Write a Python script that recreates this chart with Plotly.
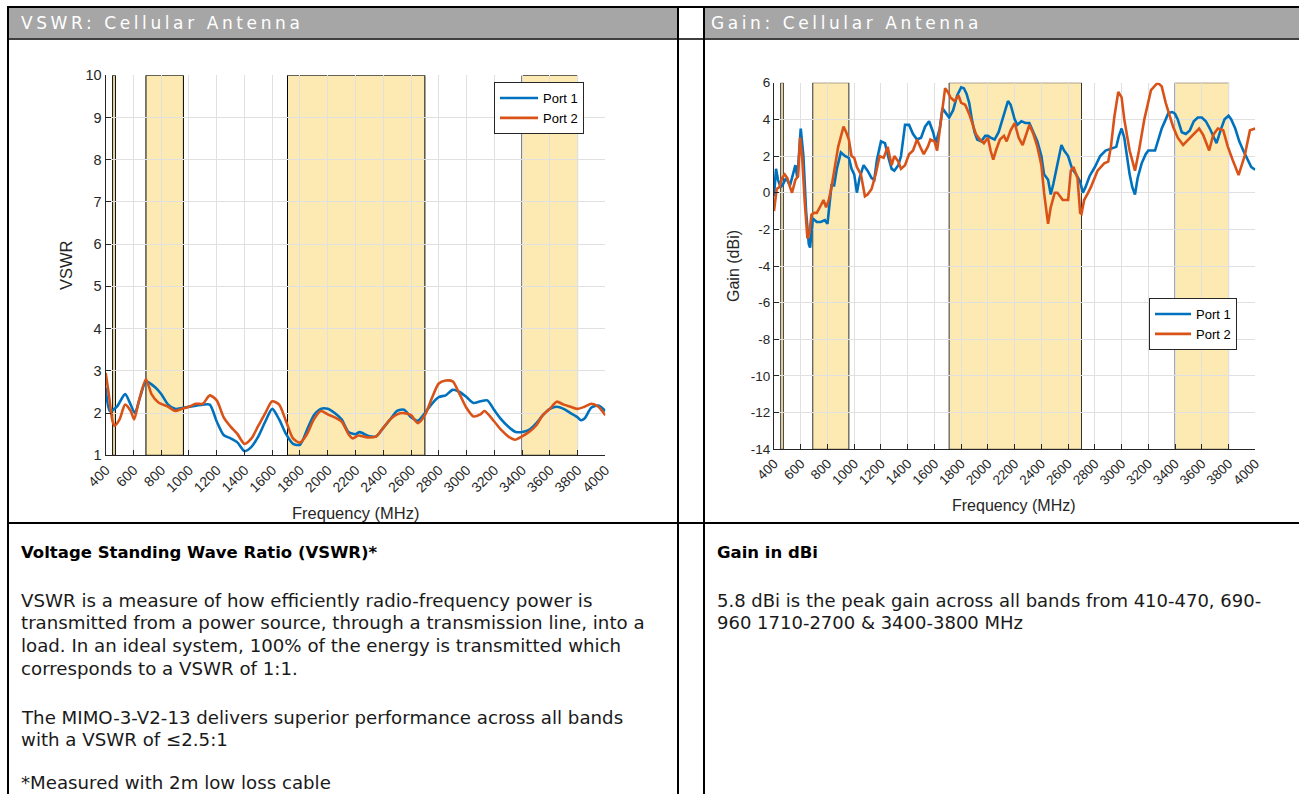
import plotly.graph_objects as go

W, H = 1299, 794

# ---------------- data ----------------
bands = [(450, 470), (690, 960), (1710, 2700), (3400, 3800)]

freq_vswr_p1 = [400, 430, 480, 540, 580, 610, 650, 690, 760, 800, 850, 900, 950, 1000, 1100, 1150, 1200, 1250, 1300, 1350,
                1400, 1450, 1500, 1550, 1600, 1650, 1700, 1750, 1800, 1850, 1900, 1950, 2000, 2050, 2100, 2150, 2200, 2230, 2300, 2350,
                2400, 2450, 2500, 2550, 2600, 2650, 2700, 2750, 2800, 2850, 2900, 2950, 3000, 3050, 3100, 3150, 3200, 3250, 3300, 3350,
                3400, 3450, 3500, 3550, 3600, 3650, 3700, 3750, 3800, 3825, 3850, 3900, 3950, 4000]
vswr_p1 = [2.6, 2.05, 2.15, 2.45, 2.2, 2.0, 2.4, 2.75, 2.6, 2.45, 2.2, 2.1, 2.12, 2.15, 2.2, 2.2, 1.8, 1.48, 1.4, 1.3,
           1.1, 1.2, 1.45, 1.8, 2.1, 1.85, 1.5, 1.27, 1.25, 1.6, 1.95, 2.1, 2.1, 2.0, 1.85, 1.55, 1.5, 1.55, 1.45, 1.45,
           1.65, 1.85, 2.05, 2.08, 1.9, 1.82, 2.0, 2.22, 2.38, 2.42, 2.55, 2.5, 2.38, 2.24, 2.28, 2.3, 2.07, 1.85, 1.68, 1.56,
           1.55, 1.6, 1.75, 1.95, 2.1, 2.15, 2.1, 2.0, 1.9, 1.83, 1.87, 2.13, 2.18, 2.05]

freq_vswr_p2 = [400, 420, 450, 465, 500, 540, 580, 605, 640, 690, 730, 780, 850, 900, 950, 1000, 1050, 1100, 1150, 1200,
                1250, 1300, 1350, 1400, 1450, 1500, 1550, 1600, 1650, 1700, 1750, 1800, 1850, 1900, 1950, 2000, 2050, 2100, 2150, 2180,
                2220, 2250, 2300, 2350, 2400, 2450, 2500, 2550, 2600, 2650, 2700, 2750, 2800, 2850, 2900, 2950, 3000, 3050, 3100, 3130,
                3200, 3250, 3300, 3350, 3400, 3450, 3500, 3550, 3600, 3650, 3700, 3750, 3800, 3850, 3900, 3950, 4000]
vswr_p2 = [2.95, 2.5, 1.8, 1.7, 1.85, 2.2, 2.05, 1.85, 2.3, 2.8, 2.45, 2.25, 2.15, 2.05, 2.1, 2.15, 2.22, 2.22, 2.42, 2.3,
           1.9, 1.68, 1.5, 1.27, 1.4, 1.7, 2.0, 2.28, 2.2, 1.8, 1.4, 1.3, 1.5, 1.85, 2.05, 1.97, 1.9, 1.8, 1.5, 1.4,
           1.47, 1.45, 1.42, 1.45, 1.65, 1.85, 1.97, 2.0, 1.95, 1.76, 1.95, 2.35, 2.7, 2.77, 2.75, 2.45, 2.12, 1.92, 1.97, 2.05,
           1.8, 1.6, 1.45, 1.37, 1.45, 1.55, 1.7, 1.95, 2.1, 2.27, 2.2, 2.15, 2.1, 2.15, 2.22, 2.15, 1.95]

freq_gain_p1 = [400, 415, 430, 450, 470, 490, 520, 540, 560, 575, 600, 620, 640, 660, 670, 690, 720, 750, 780, 800,
                810, 830, 850, 870, 900, 930, 960, 980, 1000, 1020, 1040, 1070, 1100, 1130, 1150, 1170, 1200, 1230, 1260, 1280,
                1300, 1330, 1350, 1380, 1410, 1440, 1470, 1500, 1530, 1560, 1590, 1610, 1640, 1660, 1690, 1710, 1740, 1770, 1800, 1820,
                1840, 1860, 1880, 1900, 1920, 1950, 1980, 2000, 2020, 2050, 2080, 2110, 2150, 2170, 2200, 2220, 2250, 2280, 2310, 2340,
                2370, 2400, 2420, 2450, 2470, 2490, 2520, 2550, 2570, 2600, 2630, 2660, 2690, 2710, 2730, 2760, 2800, 2840, 2880, 2920,
                2960, 2980, 3000, 3020, 3040, 3060, 3080, 3100, 3120, 3150, 3180, 3200, 3250, 3280, 3300, 3330, 3350, 3380, 3400, 3420,
                3450, 3480, 3510, 3540, 3570, 3600, 3630, 3660, 3690, 3710, 3740, 3770, 3800, 3820, 3850, 3880, 3910, 3940, 3970, 4000]
gain_p1 = [-0.2, 1.3, 0.7, 0.3, 0.5, 0.8, 0.4, 0.9, 1.5, 0.8, 3.5, 2.0, -1.0, -2.8, -3.0, -1.4, -1.6, -1.6, -1.5, -1.7,
           -1.0, 0.4, 0.4, 1.3, 2.2, 2.0, 1.9, 1.3, 1.0, 0.0, 0.8, 1.5, 1.2, 0.8, 0.7, 1.8, 2.8, 2.7, 1.8, 1.3,
           1.2, 1.5, 2.0, 3.7, 3.7, 3.2, 2.9, 3.0, 3.6, 3.9, 3.3, 2.7, 3.5, 4.6, 4.3, 4.1, 4.5, 5.3, 5.75, 5.7,
           5.4, 4.9, 4.0, 3.3, 2.9, 2.8, 3.1, 3.1, 3.0, 2.9, 3.3, 4.0, 5.0, 4.8, 4.0, 3.7, 3.9, 3.8, 3.8, 3.3,
           2.8, 2.0, 1.0, 0.7, -0.1, 0.5, 1.5, 2.6, 2.3, 2.0, 1.3, 1.0, 0.6, 0.0, 0.3, 0.9, 1.4, 2.0, 2.3, 2.4,
           2.5, 3.1, 3.5, 3.0, 2.0, 1.0, 0.3, -0.1, 0.8, 1.6, 2.1, 2.3, 2.3, 3.0, 3.5, 4.0, 4.35, 4.4, 4.3, 4.0,
           3.3, 3.2, 3.4, 3.9, 4.1, 4.1, 3.9, 3.5, 3.0, 2.7, 3.4, 4.0, 4.2, 4.0, 3.5, 2.8, 2.3, 1.8, 1.4, 1.25]

freq_gain_p2 = [400, 410, 420, 440, 460, 480, 500, 520, 535, 560, 580, 595, 610, 630, 650, 665, 680, 700, 720, 750,
                770, 790, 810, 830, 860, 880, 920, 940, 960, 980, 1000, 1020, 1050, 1080, 1100, 1130, 1160, 1190, 1220, 1250,
                1280, 1300, 1330, 1350, 1380, 1410, 1440, 1470, 1500, 1520, 1550, 1570, 1600, 1620, 1650, 1680, 1700, 1720, 1750, 1780,
                1800, 1830, 1860, 1890, 1910, 1940, 1970, 2000, 2020, 2040, 2060, 2090, 2120, 2140, 2170, 2200, 2230, 2260, 2290, 2310,
                2340, 2370, 2400, 2420, 2450, 2470, 2500, 2520, 2560, 2600, 2620, 2640, 2670, 2690, 2700, 2720, 2750, 2770, 2820, 2870,
                2900, 2920, 2945, 2975, 3000, 3020, 3060, 3100, 3130, 3170, 3220, 3270, 3300, 3330, 3385, 3420, 3460, 3500, 3550, 3580,
                3610, 3655, 3685, 3720, 3760, 3795, 3830, 3875, 3920, 3960, 4000]
gain_p2 = [-1.0, -0.3, 0.2, 0.3, 0.8, 1.0, 0.8, 0.3, 0.0, 0.7, 0.9, 3.0, 2.0, -0.5, -2.5, -2.2, -1.2, -1.1, -1.1, -0.7,
           -0.4, -0.8, -0.4, 0.3, 1.5, 2.5, 3.6, 3.3, 2.9, 2.0, 1.9, 1.4, 1.0, -0.2, -0.1, 0.2, 1.0, 2.0, 1.9, 2.5,
           1.5, 2.0, 1.7, 1.3, 1.5, 2.1, 2.3, 2.9, 2.4, 2.1, 2.5, 2.9, 2.8, 2.3, 4.0, 5.7, 5.5, 5.2, 5.0, 5.3,
           4.9, 4.8, 4.3, 3.7, 3.2, 2.9, 2.7, 3.0, 2.3, 1.8, 2.3, 2.9, 3.1, 2.8, 3.4, 3.8, 3.0, 2.6, 3.3, 3.7,
           3.2, 2.5, 1.5, 0.0, -1.7, -0.8, 0.0, 0.0, -0.4, -0.4, 1.2, 1.4, 0.8, -1.1, -1.16, -0.4, 0.0, 0.3, 1.2, 1.6,
           1.7, 2.5, 4.1, 5.5, 5.2, 4.0, 2.3, 1.2, 2.3, 4.0, 5.6, 6.0, 5.8, 4.9, 3.6, 3.0, 2.6, 2.9, 3.3, 3.5,
           3.15, 2.3, 3.15, 3.5, 3.4, 2.5, 1.8, 0.96, 2.0, 3.4, 3.5]

freq_ticks = list(range(400, 4001, 200))
vswr_ticks = list(range(1, 11))
gain_ticks = list(range(-14, 7, 2))

header_left = "VSWR: Cellular Antenna"
header_right = "Gain: Cellular Antenna"
vswr_heading = "Voltage Standing Wave Ratio (VSWR)*"
vswr_lines = [
    "VSWR is a measure of how efficiently radio-frequency power is",
    "transmitted from a power source, through a transmission line, into a",
    "load. In an ideal system, 100% of the energy is transmitted which",
    "corresponds to a VSWR of 1:1.",
    "",
    "The MIMO-3-V2-13 delivers superior performance across all bands",
    "with a VSWR of \u22642.5:1",
    "",
    "*Measured with 2m low loss cable",
]
gain_heading = "Gain in dBi"
gain_lines = [
    "5.8 dBi is the peak gain across all bands from 410-470, 690-",
    "960 1710-2700 & 3400-3800 MHz",
]

# ---------------- styles ----------------
BLUE = "#0072BD"
ORANGE = "#D95319"
BAND = "rgb(253,234,179)"
AX = "#262626"
GRID = "#e0e0e0"
TXT_FONT = "DejaVu Sans"
AX_FONT = "Liberation Sans"


def px(x):
    return x / W


def py(y):
    return 1 - y / H


fig = go.Figure()

fig.add_trace(go.Scatter(x=freq_vswr_p1, y=vswr_p1, name="Port 1", mode="lines",
                         line=dict(color=BLUE, width=2.6, shape="spline", smoothing=0.7),
                         xaxis="x", yaxis="y", legend="legend"))
fig.add_trace(go.Scatter(x=freq_vswr_p2, y=vswr_p2, name="Port 2", mode="lines",
                         line=dict(color=ORANGE, width=2.6, shape="spline", smoothing=0.7),
                         xaxis="x", yaxis="y", legend="legend"))
fig.add_trace(go.Scatter(x=freq_gain_p1, y=gain_p1, name="Port 1", mode="lines",
                         line=dict(color=BLUE, width=2.6),
                         xaxis="x2", yaxis="y2", legend="legend2"))
fig.add_trace(go.Scatter(x=freq_gain_p2, y=gain_p2, name="Port 2", mode="lines",
                         line=dict(color=ORANGE, width=2.6),
                         xaxis="x2", yaxis="y2", legend="legend2"))

shapes = []
# frequency bands
for (a, b) in bands:
    shapes.append(dict(type="rect", xref="x", yref="y", x0=a, x1=b, y0=1, y1=10,
                       fillcolor=BAND, line=dict(color="black", width=1), layer="below"))
    shapes.append(dict(type="rect", xref="x2", yref="y2", x0=a, x1=b, y0=-14, y1=6,
                       fillcolor=BAND, line=dict(color="#333333", width=1), layer="below"))

# table: header fills
shapes.append(dict(type="rect", xref="paper", yref="paper", x0=px(9), x1=px(677), y0=py(38), y1=py(7.5),
                   fillcolor="#a6a6a6", line=dict(width=0), layer="below"))
shapes.append(dict(type="rect", xref="paper", yref="paper", x0=px(704.5), x1=px(1299), y0=py(38), y1=py(7.5),
                   fillcolor="#a6a6a6", line=dict(width=0), layer="below"))


def hline(y, x0, x1, w=2):
    shapes.append(dict(type="line", xref="paper", yref="paper", x0=px(x0), x1=px(x1), y0=py(y), y1=py(y),
                       line=dict(color="black", width=w), layer="above"))


def vline(x, y0, y1, w=2):
    shapes.append(dict(type="line", xref="paper", yref="paper", x0=px(x), x1=px(x), y0=py(y0), y1=py(y1),
                       line=dict(color="black", width=w), layer="above"))


hline(7, 7, 1299)
hline(39, 7, 1299, 1.6)
hline(523, 7, 1299)
vline(8, 6, 794)
vline(678, 6, 794)
vline(704, 6, 794)

annotations = []


def text(x, y, s, size=16, color="black", bold=False, family=TXT_FONT, spacing=None, anchor="left", angle=0):
    t = s
    if bold:
        t = "<b>" + t + "</b>"
    if spacing is not None:
        t = '<span style="letter-spacing:%spx">%s</span>' % (spacing, t)
    annotations.append(dict(xref="paper", yref="paper", x=px(x), y=py(y), text=t, showarrow=False,
                            xanchor=anchor, yanchor="middle", textangle=angle, borderpad=0,
                            font=dict(family=family, size=size, color=color)))


text(20, 23.5, header_left, size=17, color="white", spacing=3.6)
text(710, 23.5, header_right, size=17, color="white", spacing=3.6)

BODY = 18.2
text(20, 552, vswr_heading, size=16.5, bold=True)
line_y = [600, 622.5, 645, 668, None, 717, 739.5, None, 782.5]
for s, y in zip(vswr_lines, line_y):
    if s:
        text(20, y, s, size=BODY, color="#1a1a1a")
text(716, 552, gain_heading, size=16.5, bold=True)
text(716, 600, gain_lines[0], size=BODY * 0.99, color="#1a1a1a")
text(716, 622.5, gain_lines[1], size=BODY * 0.99, color="#1a1a1a")

# axis titles
text(66, 265, "VSWR", size=16.5, color=AX, family=AX_FONT, anchor="center", angle=-90)
text(355, 513, "Frequency (MHz)", size=16.5, color=AX, family=AX_FONT, anchor="center")
text(733, 266, "Gain (dBi)", size=16, color=AX, family=AX_FONT, anchor="center", angle=-90)
text(1014, 505, "Frequency (MHz)", size=16, color=AX, family=AX_FONT, anchor="center")

common_x = dict(range=[400, 4000], tickmode="array", tickvals=freq_ticks, ticktext=[str(v) for v in freq_ticks],
                tickangle=-45, showline=True, linecolor=AX, linewidth=1.2, ticks="inside", ticklen=5,
                tickcolor=AX, showgrid=True, gridcolor=GRID, gridwidth=1, zeroline=False, mirror=False,
                automargin=False)
common_y = dict(showline=True, linecolor=AX, linewidth=1.2, ticks="inside", ticklen=5, tickcolor=AX,
                showgrid=True, gridcolor=GRID, gridwidth=1, zeroline=False, mirror=False, automargin=False)

fig.update_layout(
    width=W, height=H, autosize=False,
    margin=dict(l=0, r=0, t=0, b=0, pad=0, autoexpand=False),
    paper_bgcolor="white", plot_bgcolor="white",
    xaxis=dict(domain=[px(105.7), px(605.3)], anchor="y",
               tickfont=dict(family=AX_FONT, size=14, color=AX), **common_x),
    yaxis=dict(domain=[py(455.3), py(75.3)], anchor="x", range=[1, 10], tickmode="array",
               tickvals=vswr_ticks, ticktext=[str(v) for v in vswr_ticks],
               tickfont=dict(family=AX_FONT, size=14.5, color=AX), **common_y),
    xaxis2=dict(domain=[px(774), px(1255.3)], anchor="y2",
                tickfont=dict(family=AX_FONT, size=13.5, color=AX), **common_x),
    yaxis2=dict(domain=[py(449.3), py(82.7)], anchor="x2", range=[-14, 6], tickmode="array",
                tickvals=gain_ticks, ticktext=[str(v) for v in gain_ticks],
                tickfont=dict(family=AX_FONT, size=13.5, color=AX), **common_y),
    shapes=shapes,
    annotations=annotations,
    legend=dict(x=px(494), y=py(82), xanchor="left", yanchor="top", bgcolor="white",
                bordercolor=AX, borderwidth=1, font=dict(family=AX_FONT, size=13, color="black"),
                itemwidth=38, tracegroupgap=0),
    legend2=dict(x=px(1149), y=py(298), xanchor="left", yanchor="top", bgcolor="white",
                 bordercolor=AX, borderwidth=1, font=dict(family=AX_FONT, size=13, color="black"),
                 itemwidth=36, tracegroupgap=0),
    showlegend=True,
)

fig.write_html("out.html",
               config={"displayModeBar": False},
               post_script="document.body.style.margin='0';document.body.style.padding='0';"
                           "document.documentElement.style.overflow='hidden';")
